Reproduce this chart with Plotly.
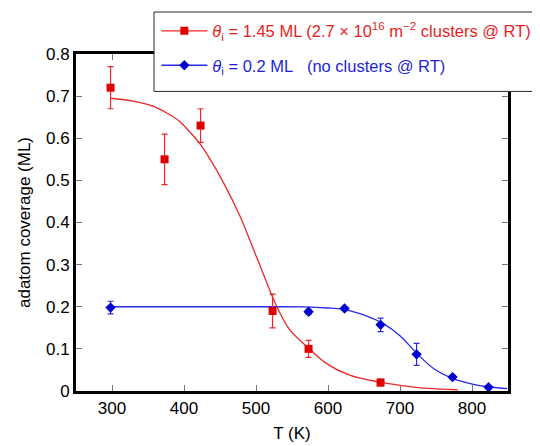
import plotly.graph_objects as go

# measured data
T_red = [298, 373, 423, 523, 573, 673]
cov_red = [0.72, 0.55, 0.63, 0.19, 0.10, 0.02]
err_red = [0.05, 0.06, 0.04, 0.04, 0.02, 0.008]

T_blue = [298, 573, 623, 673, 723, 773, 823]
cov_blue = [0.198, 0.188, 0.196, 0.157, 0.087, 0.033, 0.009]
err_blue = [0.015, 0.006, 0.004, 0.016, 0.026, 0.004, 0.003]

# fit curves
T_fit_red = [298, 330, 357, 376, 394, 408, 422, 436, 455, 478, 494, 512, 529, 547, 571, 598, 631, 672, 700, 740, 780]
cov_fit_red = [0.695, 0.688, 0.676, 0.660, 0.640, 0.615, 0.587, 0.551, 0.494, 0.414, 0.347, 0.27, 0.20, 0.145, 0.105, 0.065, 0.037, 0.021, 0.0136, 0.006, 0.003]

T_fit_blue = [298, 400, 500, 570, 600, 621, 631, 654, 677, 700, 723, 747, 774, 802, 825, 849]
cov_fit_blue = [0.2, 0.2, 0.2, 0.1995, 0.197, 0.194, 0.19, 0.178, 0.16, 0.131, 0.09, 0.053, 0.0295, 0.016, 0.0095, 0.0057]

x_ticks = [300, 400, 500, 600, 700, 800]
y_ticks = [0, 0.1, 0.2, 0.3, 0.4, 0.5, 0.6, 0.7, 0.8]
y_labels = ["0", "0.1", "0.2", "0.3", "0.4", "0.5", "0.6", "0.7", "0.8"]

RED_M = "rgb(225,0,0)"
RED_L = "rgb(238,40,40)"
BLUE_M = "rgb(0,0,210)"
BLUE_L = "rgb(40,40,235)"

name_red = ('<span style="color:rgb(232,30,30)"><i>θ</i><sub>i</sub> = 1.45 ML (2.7 × 10<sup>16</sup> '
            'm<sup>−2</sup> clusters @ RT)</span>')
name_blue = ('<span style="color:rgb(30,30,220)"><i>θ</i><sub>i</sub> = 0.2 ML\u00a0\u00a0\u00a0(no clusters @ RT)</span>')

fig = go.Figure()

fig.add_trace(go.Scatter(x=T_fit_red, y=cov_fit_red, mode="lines", line=dict(color=RED_L, width=1.3, shape="spline", smoothing=1),
                         showlegend=False, hoverinfo="skip"))
fig.add_trace(go.Scatter(x=T_fit_blue, y=cov_fit_blue, mode="lines", line=dict(color=BLUE_L, width=1.3, shape="spline", smoothing=1),
                         showlegend=False, hoverinfo="skip"))
fig.add_trace(go.Scatter(x=T_red, y=cov_red, mode="markers",
                         marker=dict(symbol="square", size=8, color=RED_M),
                         error_y=dict(type="data", array=err_red, color=RED_L, thickness=1.2, width=3),
                         showlegend=False))
fig.add_trace(go.Scatter(x=T_blue, y=cov_blue, mode="markers",
                         marker=dict(symbol="diamond", size=8, color=BLUE_M),
                         error_y=dict(type="data", array=err_blue, color=BLUE_L, thickness=1.2, width=3),
                         showlegend=False))
# legend entries
fig.add_trace(go.Scatter(x=[None], y=[None], mode="lines+markers", name=name_red, legendgroup="a",
                         line=dict(color=RED_L, width=1.3), marker=dict(symbol="square", size=8, color=RED_M)))
fig.add_trace(go.Scatter(x=[None], y=[None], mode="lines+markers", name=name_blue, legendgroup="b",
                         line=dict(color=BLUE_L, width=1.3), marker=dict(symbol="diamond", size=8, color=BLUE_M)))

axis_common = dict(showline=True, linecolor="black", linewidth=3, mirror="ticks", ticks="inside",
                   ticklen=6, tickcolor="rgb(120,120,120)", tickwidth=1, showgrid=False, zeroline=False,
                   tickfont=dict(size=17, color="black"))

fig.update_xaxes(range=[250, 850], tickvals=x_ticks, title=dict(text="T (K)", font=dict(size=17), standoff=10),
                 **axis_common)
fig.update_yaxes(range=[0, 0.8], tickvals=y_ticks, ticktext=y_labels,
                 title=dict(text="adatom coverage (ML)", font=dict(size=17), standoff=12), **axis_common)

# legend frame (page has an 8px body offset, margins compensate)
fig.add_shape(type="rect", xref="paper", yref="paper", x0=0.1806, x1=1.2, y0=0.889, y1=1.1246,
              line=dict(color="rgb(40,40,40)", width=1), fillcolor="white", layer="above")

fig.update_layout(
    width=540, height=446,
    margin=dict(l=68, r=40, t=46, b=63, autoexpand=False),
    paper_bgcolor="white", plot_bgcolor="white",
    font=dict(family="Liberation Sans, Arial, sans-serif", size=17, color="black"),
    legend=dict(x=0.186, y=1.12, xanchor="left", yanchor="top", xref="paper", yref="paper",
                bgcolor="rgba(0,0,0,0)", borderwidth=0,
                font=dict(size=16.5), itemwidth=46, tracegroupgap=10),
)

fig.write_html("out.html")
